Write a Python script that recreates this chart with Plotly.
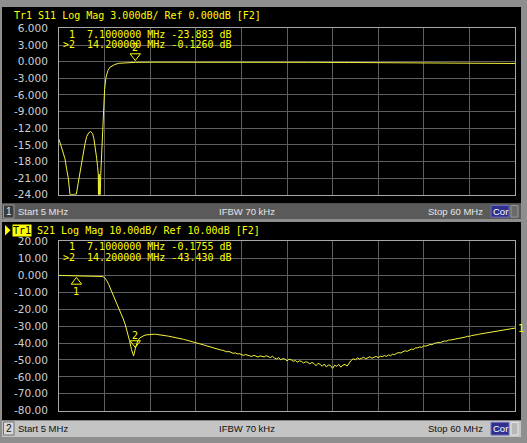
import plotly.graph_objects as go

W, H = 527, 443


def px(x):
    return x / W


def py(y):
    return 1 - y / H


# ---------------- data ----------------
sweep_start_mhz = 5.0
sweep_stop_mhz = 60.0
s21_points = 221

s11_freq_mhz = [5.0, 5.25, 5.5, 5.72, 5.9, 6.12, 6.33, 6.6, 6.85, 7.05, 7.1, 7.3, 7.53, 7.75,
                7.93, 8.15, 8.34, 8.6, 8.82, 9.05, 9.2, 9.34, 9.45, 9.55, 9.65, 9.74, 9.76,
                9.80, 9.82, 9.86, 9.88, 9.98, 10.03, 10.15, 10.25, 10.34, 10.5, 10.67, 10.9,
                11.15, 11.45, 11.75, 12.2, 13.0, 14.2, 16.0, 20.0, 25.0, 30.0, 35.0, 40.0,
                45.0, 50.0, 55.0, 60.0]
s11_db = [-14.0, -15.2, -16.4, -17.5, -19.2, -21.0, -24.0, -24.0, -24.0, -24.0, -23.883, -22.0,
          -19.8, -17.8, -16.3, -14.7, -13.5, -12.8, -12.6, -13.0, -13.8, -15.1, -16.2, -17.5,
          -18.9, -20.3, -24.0, -24.0, -20.5, -20.3, -24.0, -24.0, -20.5, -16.3, -12.0, -8.7,
          -5.0, -2.8, -1.6, -1.0, -0.7, -0.5, -0.3, -0.18, -0.126, -0.10, -0.08, -0.10, -0.12,
          -0.12, -0.15, -0.18, -0.22, -0.28, -0.33]

s21_db = [
    -0.08, -0.10, -0.09, -0.11, -0.10, -0.12, -0.13, -0.15, -0.17, -0.18, -0.20, -0.22,
    -0.25, -0.27, -0.28, -0.30, -0.31, -0.32, -0.33, -0.35, -0.40,
    -0.7, -1.4, -3.0, -5.5, -8.4, -11.0, -13.4, -16.2, -19.2, -22.5, -25.8, -29.3, -33.5,
    -38.5, -44.0, -47.6,
    -42.3, -38.8, -37.0, -36.1, -35.6, -35.2, -35.0, -34.9, -34.8, -34.8, -34.9, -35.0,
    -35.1, -35.3, -35.5, -35.8, -36.0, -36.2, -36.5, -36.7, -37.0, -37.2, -37.5, -37.8,
    -38.1, -38.4, -38.7, -39.0, -39.3, -39.6, -40.0, -40.4, -40.8, -41.2, -41.6, -42.0,
    -42.4, -42.8, -43.0, -43.5, -43.8, -44.1, -44.3, -44.7,
    -45.2, -45.0, -45.6, -46.1, -45.8, -46.4, -46.3, -46.9, -47.3, -46.8, -47.0, -47.6,
    -47.9, -47.3, -47.7, -48.3, -47.6, -47.9, -48.2, -47.5,
    -48.1, -48.6, -47.8, -48.9, -49.4, -48.6, -49.9, -49.2, -49.5, -50.5, -49.6, -49.9,
    -50.8, -50.3, -51.3, -50.5, -50.9, -51.8, -51.1, -51.4,
    -52.3, -51.5, -52.1, -53.4, -52.0, -52.6, -53.7, -52.4, -54.2, -52.9, -53.3, -55.0,
    -53.1, -53.8, -52.6, -54.3, -53.0, -52.7, -53.6, -51.9,
    -50.2, -49.3, -49.9, -48.8, -49.5, -49.0, -48.4, -49.3, -48.6, -48.1, -49.0, -48.3,
    -47.9, -48.7, -47.8, -48.1, -47.4, -47.9, -47.0, -47.5,
    -46.6, -46.9, -46.0, -45.7, -45.9, -45.1, -44.6, -44.9, -44.0, -43.6, -43.8, -42.9,
    -42.8, -42.3, -42.6, -41.7, -41.8, -41.2, -40.9, -41.0,
    -40.2, -40.0, -39.6, -39.7, -39.1, -38.8, -38.9, -38.3, -38.2, -38.0, -37.5, -37.6,
    -37.0, -36.9, -36.6, -36.5, -36.0, -36.1, -35.6, -35.5,
    -35.1, -35.0, -34.7, -34.5, -34.4, -34.1, -33.9, -33.8, -33.5, -33.3, -33.1, -32.9,
    -32.7, -32.6, -32.2, -32.3, -31.8, -31.7, -31.4, -31.2,
]
s21_freq_mhz = [sweep_start_mhz + i * (sweep_stop_mhz - sweep_start_mhz) / (s21_points - 1)
                for i in range(s21_points)]

marker_freq_mhz = [7.1, 14.2]
marker_freq_text = ["7.1000000", "14.200000"]
s11_marker_db = [-23.883, -0.126]
s11_marker_text = ["-23.883", "-0.1260"]
s21_marker_db = [-0.1755, -43.43]
s21_marker_text = ["-0.1755", "-43.430"]

s11_tick_db = [6, 3, 0, -3, -6, -9, -12, -15, -18, -21, -24]
s11_tick_text = ["6.000", "3.000", "0.000", "-3.000", "-6.000", "-9.000", "-12.00",
                 "-15.00", "-18.00", "-21.00", "-24.00"]
s21_tick_db = [20, 10, 0, -10, -20, -30, -40, -50, -60, -70, -80]
s21_tick_text = ["20.00", "10.00", "0.000", "-10.00", "-20.00", "-30.00", "-40.00",
                 "-50.00", "-60.00", "-70.00", "-80.00"]

YEL = "#ffff00"
TRACE = "#f4f43c"
GRID = "#5e5e5e"
BORDER = "#a8a8a8"
LBL = "#cfcfcf"
MONO = "DejaVu Sans Mono"
SANS = "Liberation Sans"

fig = go.Figure()

# S11 trace
fig.add_trace(go.Scatter(x=s11_freq_mhz, y=s11_db, mode="lines",
                         line=dict(color=TRACE, width=1), xaxis="x", yaxis="y",
                         hoverinfo="skip"))
# S21 trace
fig.add_trace(go.Scatter(x=s21_freq_mhz, y=s21_db, mode="lines",
                         line=dict(color=TRACE, width=1), xaxis="x2", yaxis="y2",
                         hoverinfo="skip"))

# unit conversions (dB per pixel) for marker offsets
s11_dbpp = 30 / 171.0
s21_dbpp = 100 / 174.0

# bottom-edge marker position indicators
fig.add_trace(go.Scatter(x=marker_freq_mhz, y=[-24 - 3.6 * s11_dbpp] * 2, mode="markers",
                         marker=dict(symbol=["triangle-up-open", "triangle-up"], size=9,
                                     color=YEL, line=dict(color=YEL, width=1)),
                         xaxis="x", yaxis="y", cliponaxis=False, hoverinfo="skip"))
fig.add_trace(go.Scatter(x=marker_freq_mhz, y=[-80 - 4 * s21_dbpp] * 2, mode="markers",
                         marker=dict(symbol=["triangle-up-open", "triangle-up"], size=9,
                                     color=YEL, line=dict(color=YEL, width=1)),
                         xaxis="x2", yaxis="y2", cliponaxis=False, hoverinfo="skip"))

# on-trace markers
fig.add_trace(go.Scatter(x=[marker_freq_mhz[1]], y=[s11_marker_db[1] + 6.5 * s11_dbpp],
                         mode="markers", marker=dict(symbol="triangle-down-open", size=9,
                                                     color=YEL, line=dict(color=YEL, width=1)),
                         xaxis="x", yaxis="y", cliponaxis=False, hoverinfo="skip"))
fig.add_trace(go.Scatter(x=[marker_freq_mhz[0]], y=[s21_marker_db[0] - 6.5 * s21_dbpp],
                         mode="markers", marker=dict(symbol="triangle-up-open", size=9,
                                                     color=YEL, line=dict(color=YEL, width=1)),
                         xaxis="x2", yaxis="y2", cliponaxis=False, hoverinfo="skip"))
fig.add_trace(go.Scatter(x=[marker_freq_mhz[1]], y=[s21_marker_db[1] + 6 * s21_dbpp],
                         mode="markers", marker=dict(symbol="triangle-down-open", size=9,
                                                     color=YEL, line=dict(color=YEL, width=1)),
                         xaxis="x2", yaxis="y2", cliponaxis=False, hoverinfo="skip"))

# reference level arrows
fig.add_trace(go.Scatter(x=[sweep_start_mhz - 3.5 / 8.29, sweep_stop_mhz + 3.5 / 8.29],
                         y=[0, 0], mode="markers",
                         marker=dict(symbol=["triangle-right", "triangle-left"], size=8,
                                     color=YEL, line=dict(width=0)),
                         xaxis="x", yaxis="y", cliponaxis=False, hoverinfo="skip"))
fig.add_trace(go.Scatter(x=[sweep_start_mhz - 3.5 / 8.29], y=[10], mode="markers",
                         marker=dict(symbol="triangle-right", size=8, color=YEL,
                                     line=dict(width=0)),
                         xaxis="x2", yaxis="y2", cliponaxis=False, hoverinfo="skip"))

shapes = []


def rect(x0, y0, x1, y1, fill, line=None, layer="below"):
    shapes.append(dict(type="rect", xref="paper", yref="paper",
                       x0=px(x0), x1=px(x1), y0=py(y1), y1=py(y0),
                       fillcolor=fill, line=dict(width=1 if line else 0,
                                                 color=line or fill),
                       layer=layer))


# panels
rect(2, 1, 521, 203, "#000000")
rect(2, 222, 521, 426, "#000000")
# status bars
rect(2, 203, 521, 219, "#5a5a5a")
rect(2, 426, 521, 443, "#c4c4c4")
# channel number boxes
rect(3.5, 204.5, 14, 218, "#3c3c3c", "#9a9a9a", layer="above")
rect(3.5, 427.5, 14, 441, "#d8d8d8", "#707070", layer="above")
# Cor boxes
rect(491, 205, 509, 217, "#30308c", "#6c6cc0", layer="above")
rect(511, 205, 518, 217, "#6a6a6a", "#9a9a9a", layer="above")
rect(491, 428, 509, 441, "#30308c", "#6c6cc0", layer="above")
rect(511, 428, 518, 441, "#b8b8b8", "#e8e8e8", layer="above")
# active trace arrow in bottom title
shapes.append(dict(type="path", xref="paper", yref="paper",
                   path=f"M {px(5)},{py(225)} L {px(10.5)},{py(230.5)} L {px(5)},{py(236)} Z",
                   fillcolor=YEL, line=dict(width=0), layer="above"))

annotations = []
NB = "\u00a0"


def text(x, y, s, color=YEL, size=10, family=MONO, anchor="left", bg=None, xref="paper",
         yref="paper"):
    annotations.append(dict(x=px(x) if xref == "paper" else x,
                            y=py(y) if yref == "paper" else y,
                            xref=xref, yref=yref, text=s.replace(" ", NB),
                            showarrow=False, xanchor=anchor, yanchor="middle",
                            font=dict(family=family, size=size, color=color),
                            bgcolor=bg, borderpad=0))


text(12.7, 9.5, "Tr1 S11 Log Mag 3.000dB/ Ref 0.000dB [F2]")
text(12, 230.5, "Tr1", color="#000000", bg=YEL)
text(36, 230.5, "S21 Log Mag 10.00dB/ Ref 10.00dB [F2]")

prefixes = [" 1  ", ">2  "]
for i in range(2):
    text(62, 29.5 + 10.5 * i,
         f"{prefixes[i]}{marker_freq_text[i]} MHz {s11_marker_text[i]} dB")
    text(62, 247.5 + 11.5 * i,
         f"{prefixes[i]}{marker_freq_text[i]} MHz {s21_marker_text[i]} dB")

# marker labels on trace
annotations.append(dict(x=marker_freq_mhz[1], y=s11_marker_db[1] + 15.5 * s11_dbpp,
                        xref="x", yref="y", text="2", showarrow=False,
                        font=dict(family=MONO, size=10, color=YEL)))
annotations.append(dict(x=marker_freq_mhz[0], y=s21_marker_db[0] - 16 * s21_dbpp,
                        xref="x2", yref="y2", text="1", showarrow=False,
                        font=dict(family=MONO, size=10, color=YEL)))
annotations.append(dict(x=marker_freq_mhz[1], y=s21_marker_db[1] + 13.5 * s21_dbpp,
                        xref="x2", yref="y2", text="2", showarrow=False,
                        font=dict(family=MONO, size=10, color=YEL)))
# trace end label
annotations.append(dict(x=px(515.5), y=s21_db[-1], xref="paper", yref="y2", text="1",
                        showarrow=False, xanchor="left", yanchor="middle",
                        font=dict(family=MONO, size=10, color=YEL)))

# status bar texts
for yy, col, num, ncol in [(211, "#e6e6e6", "1", "#e6e6e6"), (434.5, "#101010", "2", "#101010")]:
    text(8.8, yy, num, color=ncol, size=10, family=SANS, anchor="center")
    text(17, yy, "Start 5 MHz", color=col, size=9.5, family=SANS)
    text(247, yy, "IFBW 70 kHz", color=col, size=9.5, family=SANS, anchor="center")
    text(484, yy, "Stop 60 MHz", color=col, size=9.5, family=SANS, anchor="right")
    text(500, yy, "Cor", color="#ffffff", size=9.5, family=SANS, anchor="center")

xcommon = dict(range=[sweep_start_mhz, sweep_stop_mhz], tick0=sweep_start_mhz,
               dtick=(sweep_stop_mhz - sweep_start_mhz) / 10, showticklabels=False,
               showgrid=True, gridcolor=GRID, gridwidth=1, zeroline=False,
               showline=True, mirror=True, linecolor=BORDER, linewidth=1, ticks="",
               fixedrange=True)
ycommon = dict(showgrid=True, gridcolor=GRID, gridwidth=1, zeroline=False, showline=True,
               mirror=True, linecolor=BORDER, linewidth=1, ticks="",
               tickfont=dict(family="DejaVu Sans", size=10.5, color=LBL),
               ticklabelstandoff=8, fixedrange=True)

fig.update_layout(
    width=W, height=H, margin=dict(l=0, r=0, t=0, b=0),
    paper_bgcolor="#8e8e8e", plot_bgcolor="#000000", showlegend=False,
    xaxis=dict(domain=[px(59), px(515)], anchor="y", **xcommon),
    yaxis=dict(domain=[py(194), py(23)], anchor="x", range=[-24, 6],
               tickvals=s11_tick_db, ticktext=s11_tick_text, **ycommon),
    xaxis2=dict(domain=[px(59), px(515)], anchor="y2", **xcommon),
    yaxis2=dict(domain=[py(416), py(242)], anchor="x2", range=[-80, 20],
                tickvals=s21_tick_db, ticktext=s21_tick_text, **ycommon),
    shapes=shapes, annotations=annotations,
)

fig.write_html("out.html", config={"displayModeBar": False},
               post_script="document.body.style.margin='0';"
                           "document.body.style.overflow='hidden';")
